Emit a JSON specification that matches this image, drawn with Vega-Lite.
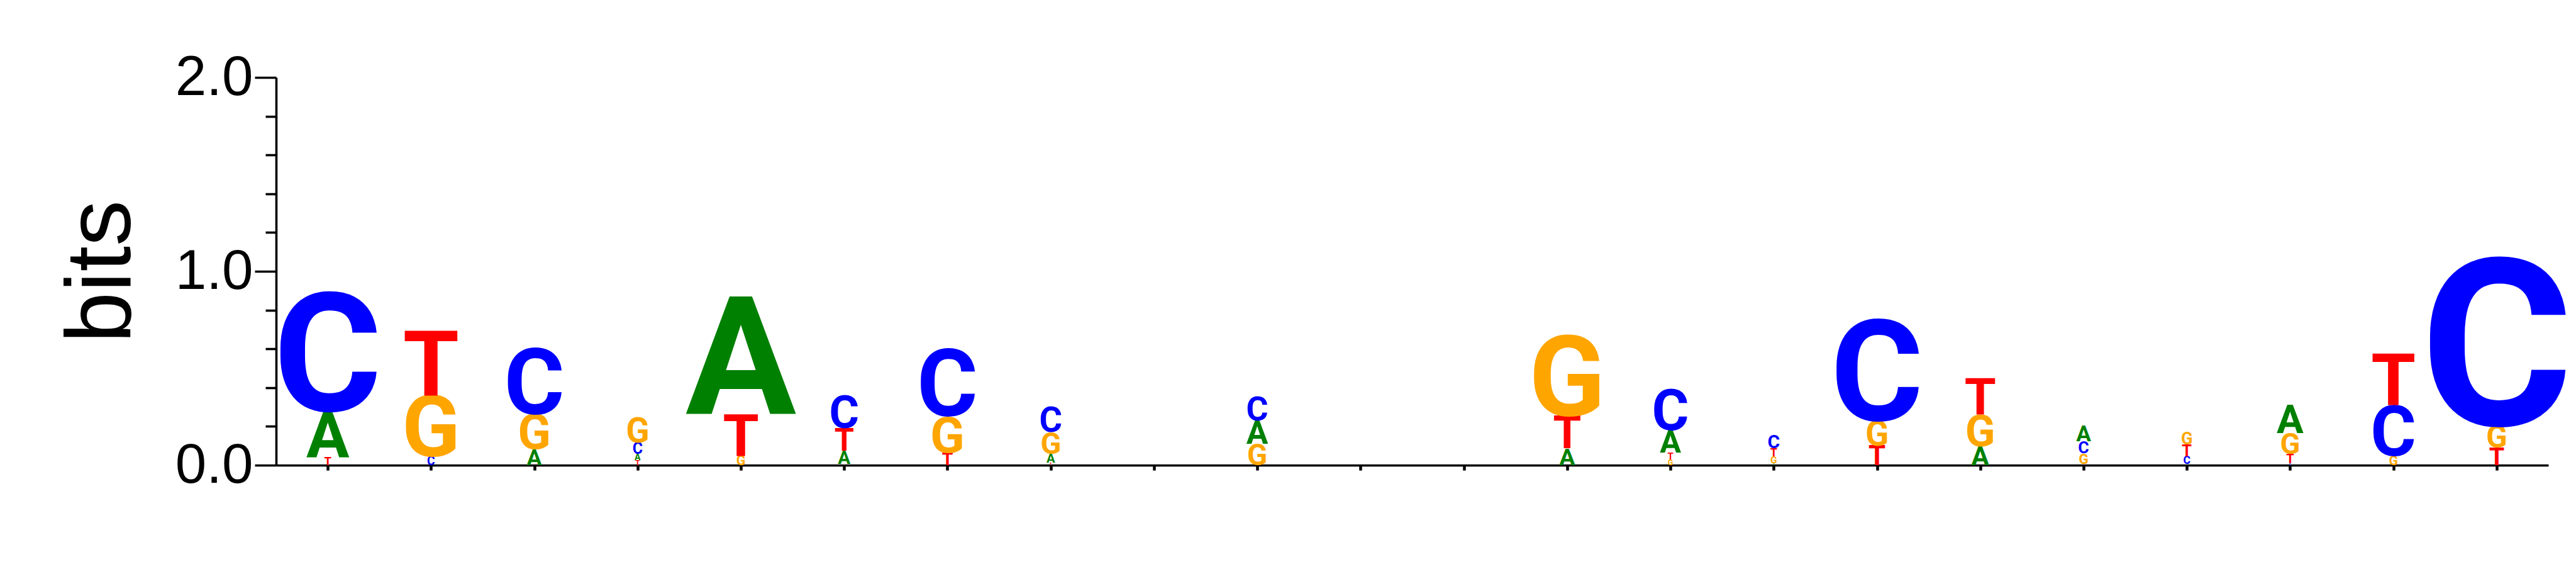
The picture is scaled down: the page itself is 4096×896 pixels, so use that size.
{
  "$schema": "https://vega.github.io/schema/vega-lite/v6.json",
  "width": 3613,
  "height": 616,
  "autosize": {"type": "none"},
  "padding": {"left": 439, "top": 123, "right": 44, "bottom": 157},
  "background": "white",
  "config": {"view": {"stroke": null}},
  "data": {"values": [
    {"pos": 1, "letter": "T", "h": 0.043}, {"pos": 1, "letter": "A", "h": 0.237}, {"pos": 1, "letter": "C", "h": 0.613},
    {"pos": 2, "letter": "C", "h": 0.045}, {"pos": 2, "letter": "G", "h": 0.315}, {"pos": 2, "letter": "T", "h": 0.335},
    {"pos": 3, "letter": "A", "h": 0.083}, {"pos": 3, "letter": "G", "h": 0.18}, {"pos": 3, "letter": "C", "h": 0.342},
    {"pos": 4, "letter": "T", "h": 0.027}, {"pos": 4, "letter": "A", "h": 0.033}, {"pos": 4, "letter": "C", "h": 0.058}, {"pos": 4, "letter": "G", "h": 0.127},
    {"pos": 5, "letter": "G", "h": 0.05}, {"pos": 5, "letter": "T", "h": 0.215}, {"pos": 5, "letter": "A", "h": 0.61},
    {"pos": 6, "letter": "G", "h": 0.005}, {"pos": 6, "letter": "A", "h": 0.069}, {"pos": 6, "letter": "T", "h": 0.117}, {"pos": 6, "letter": "C", "h": 0.169},
    {"pos": 7, "letter": "T", "h": 0.066}, {"pos": 7, "letter": "G", "h": 0.187}, {"pos": 7, "letter": "C", "h": 0.344},
    {"pos": 8, "letter": "T", "h": 0.012}, {"pos": 8, "letter": "A", "h": 0.047}, {"pos": 8, "letter": "G", "h": 0.113}, {"pos": 8, "letter": "C", "h": 0.13},
    {"pos": 10, "letter": "G", "h": 0.11}, {"pos": 10, "letter": "A", "h": 0.12}, {"pos": 10, "letter": "C", "h": 0.125},
    {"pos": 13, "letter": "A", "h": 0.088}, {"pos": 13, "letter": "T", "h": 0.168}, {"pos": 13, "letter": "G", "h": 0.415},
    {"pos": 14, "letter": "G", "h": 0.029}, {"pos": 14, "letter": "T", "h": 0.035}, {"pos": 14, "letter": "A", "h": 0.117}, {"pos": 14, "letter": "C", "h": 0.21},
    {"pos": 15, "letter": "A", "h": 0.01}, {"pos": 15, "letter": "G", "h": 0.036}, {"pos": 15, "letter": "T", "h": 0.042}, {"pos": 15, "letter": "C", "h": 0.07},
    {"pos": 16, "letter": "T", "h": 0.102}, {"pos": 16, "letter": "G", "h": 0.127}, {"pos": 16, "letter": "C", "h": 0.524},
    {"pos": 17, "letter": "A", "h": 0.098}, {"pos": 17, "letter": "G", "h": 0.163}, {"pos": 17, "letter": "T", "h": 0.188},
    {"pos": 18, "letter": "T", "h": 0.008}, {"pos": 18, "letter": "G", "h": 0.053}, {"pos": 18, "letter": "C", "h": 0.062}, {"pos": 18, "letter": "A", "h": 0.082},
    {"pos": 19, "letter": "A", "h": 0.006}, {"pos": 19, "letter": "C", "h": 0.041}, {"pos": 19, "letter": "T", "h": 0.059}, {"pos": 19, "letter": "G", "h": 0.063},
    {"pos": 20, "letter": "C", "h": 0.01}, {"pos": 20, "letter": "T", "h": 0.047}, {"pos": 20, "letter": "G", "h": 0.109}, {"pos": 20, "letter": "A", "h": 0.148},
    {"pos": 21, "letter": "G", "h": 0.049}, {"pos": 21, "letter": "C", "h": 0.258}, {"pos": 21, "letter": "T", "h": 0.266},
    {"pos": 22, "letter": "T", "h": 0.092}, {"pos": 22, "letter": "G", "h": 0.115}, {"pos": 22, "letter": "C", "h": 0.864}
  ]},
  "transform": [
    {"stack": "h", "groupby": ["pos"], "sort": [{"field": "h", "order": "ascending"}], "as": ["y0", "y1"]}
  ],
  "mark": {"type": "text", "font": "Roboto", "fontWeight": "bold", "align": "center", "baseline": "alphabetic"},
  "encoding": {
    "x": {
      "field": "pos", "type": "ordinal",
      "scale": {"domain": [1,2,3,4,5,6,7,8,9,10,11,12,13,14,15,16,17,18,19,20,21,22], "paddingInner": 0, "paddingOuter": 0.03},
      "axis": {"title": null, "labels": false, "ticks": true, "tickSize": 8, "tickWidth": 4.5, "tickColor": "black", "domainColor": "black", "domainWidth": 3.6, "grid": false}
    },
    "y": {
      "field": "y0", "type": "quantitative",
      "scale": {"domain": [0, 2], "nice": false},
      "axis": {
        "title": "bits",
        "titleFont": "Liberation Sans", "titleFontSize": 146, "titleFontWeight": "normal", "titleColor": "black",
        "titleBaseline": "alphabetic", "titlePadding": 72,
        "values": [0, 0.2, 0.4, 0.6, 0.8, 1, 1.2, 1.4, 1.6, 1.8, 2],
        "labelExpr": "datum.value % 1 === 0 ? format(datum.value, '.1f') : ''",
        "labelFont": "Liberation Sans", "labelFontSize": 89, "labelColor": "black", "labelPadding": 3,
        "labelFlush": false, "labelOverlap": false, "labelBound": false,
        "tickSize": {"condition": {"test": "datum.value % 1 === 0", "value": 34}, "value": 17},
        "tickWidth": 3.6, "tickColor": "black", "domainColor": "black", "domainWidth": 3.6, "grid": false
      }
    },
    "text": {"field": "letter"},
    "color": {
      "field": "letter", "type": "nominal",
      "scale": {"domain": ["A", "C", "G", "T"], "range": ["#008000", "#0000FF", "#FFA500", "#FF0000"]},
      "legend": null
    },
    "size": {
      "field": "h", "type": "quantitative",
      "scale": {"type": "linear", "domain": [0, 1], "range": [0, 430], "zero": true},
      "legend": null
    }
  }
}
